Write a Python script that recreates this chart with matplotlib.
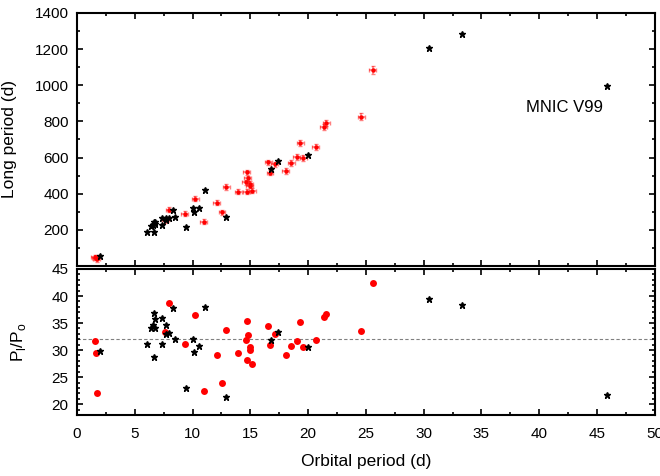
import matplotlib
matplotlib.use('Agg')
from matplotlib import pyplot as plt
from matplotlib.ticker import MultipleLocator

plt.rcParams['font.family'] = ['Liberation Sans', 'DejaVu Sans']
plt.rcParams['mathtext.fontset'] = 'custom'
plt.rcParams['mathtext.rm'] = 'Liberation Sans'

# red points (dots with error bars in top panel)
red_porb  = [1.55, 1.6, 1.7, 7.64, 8.0, 9.34, 10.24, 10.96, 12.1, 12.55, 12.92, 13.95,
             14.59, 14.7, 14.79, 14.68, 14.97, 14.94, 15.17, 16.55, 16.7, 17.13, 18.08,
             18.54, 19.0, 19.32, 19.6, 20.65, 21.34, 21.57, 24.6, 25.58]
red_plong = [49, 46, 38, 252, 310, 288, 372, 244, 350, 298, 437, 411,
             464, 518, 485, 410, 456, 444, 417, 573, 517, 562, 524,
             568, 602, 680, 599, 657, 770, 791, 826, 1087]
red_ratio = [31.6, 29.5, 22.1, 33.3, 38.7, 31.1, 36.4, 22.4, 29.0, 23.9, 33.8, 29.5,
             31.9, 35.3, 32.7, 28.2, 30.6, 30.1, 27.5, 34.5, 31.0, 33.0, 29.0,
             30.7, 31.7, 35.2, 30.6, 31.8, 36.1, 36.6, 33.6, 42.5]
red_xerr  = [0.3] * len(red_porb)
red_yerr  = [14, 14, 14, 14, 14, 14, 14, 14, 14, 14, 14, 14,
             14, 14, 14, 14, 14, 14, 14, 16, 16, 16, 16,
             16, 16, 16, 16, 16, 18, 18, 18, 22]

# black stars
blk_porb  = [2.0, 6.03, 6.4, 6.55, 6.66, 6.69, 6.75, 6.78, 7.35, 7.38, 7.7, 7.7, 7.99,
             8.27, 8.48, 9.4, 10.0, 10.15, 10.52, 11.04, 12.86, 16.75, 17.39, 20.0,
             30.45, 33.3, 45.87]
blk_plong = [57, 189, 220, 228, 189, 241, 232, 243, 226, 265, 266, 253, 263,
             311, 271, 214, 320, 300, 323, 418, 273, 536, 582, 614,
             1204, 1282, 998]
blk_ratio = [29.9, 31.2, 34.0, 34.7, 28.7, 36.8, 34.0, 35.8, 31.1, 36.0, 34.6, 32.9, 33.1,
             37.7, 32.1, 23.0, 32.1, 29.7, 30.8, 38.0, 21.4, 31.9, 33.4, 30.6,
             39.4, 38.4, 21.7]

mean_ratio = 32.0

fig = plt.figure(figsize=(6.6, 4.76), dpi=100)
ax1 = fig.add_axes([0.1167, 0.4412, 0.8753, 0.5315])
ax2 = fig.add_axes([0.1167, 0.1282, 0.8753, 0.3067])

ax1.errorbar(red_porb, red_plong, xerr=red_xerr, yerr=red_yerr, fmt='o', color='red',
             ms=2.2, ecolor=(1, 0, 0, 0.5), elinewidth=1.1, capsize=1.5, capthick=1, zorder=2)
ax1.plot(blk_porb, blk_plong, '*', color='black', ms=4.5, zorder=3)
ax1.text(45.5, 920, 'MNIC V99', fontsize=12, ha='right', va='top')

ax2.axhline(mean_ratio, color='grey', ls=(0, (3, 2)), lw=0.8, zorder=1)
ax2.plot(red_porb, red_ratio, 'o', color='red', ms=5, mec='none', zorder=2)
ax2.plot(blk_porb, blk_ratio, '*', color='black', ms=4.5, zorder=3)

ax1.set_xlim(0, 50)
ax1.set_ylim(0, 1400)
ax1.set_yticks([200, 400, 600, 800, 1000, 1200, 1400])
ax1.yaxis.set_minor_locator(MultipleLocator(100))
ax1.set_ylabel('Long period (d)', fontsize=12.5)
ax1.tick_params(labelbottom=False)

ax2.set_xlim(0, 50)
ax2.set_ylim(18, 45)
ax2.yaxis.set_major_locator(MultipleLocator(5))
ax2.yaxis.set_minor_locator(MultipleLocator(1))
ax2.set_xlabel('Orbital period (d)', fontsize=12.5, labelpad=9)
ax2.set_ylabel(r'P$_\mathregular{l}$/P$_\mathregular{o}$', fontsize=12.5)

for ax in (ax1, ax2):
    ax.xaxis.set_major_locator(MultipleLocator(5))
    ax.xaxis.set_minor_locator(MultipleLocator(2.5))
    ax.tick_params(which='both', direction='in', top=True, right=True, width=1.2, labelsize=11)
    ax.tick_params(which='major', length=4.5)
    ax.tick_params(which='minor', length=2.5)
    ax.tick_params(axis='x', pad=9)
    ax.tick_params(axis='y', pad=6)
    for s in ax.spines.values():
        s.set_linewidth(1.5)

ax1.yaxis.set_label_coords(-0.104, 0.5)
ax2.yaxis.set_label_coords(-0.085, 0.5)

fig.savefig('out.png', dpi=100)
